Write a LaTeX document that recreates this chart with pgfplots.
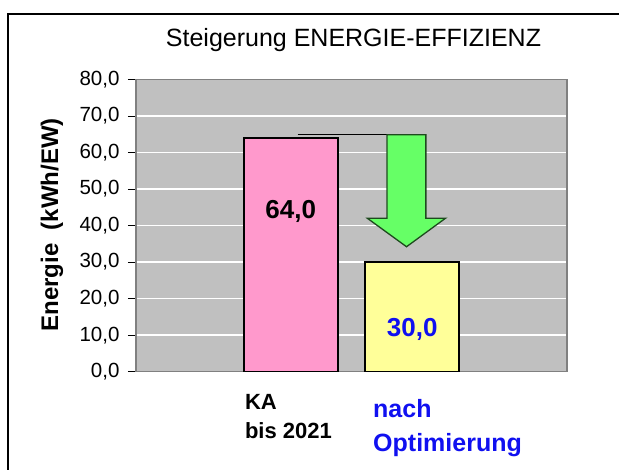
\documentclass[border=0pt]{standalone}
\usepackage{pgfplots}
\pgfplotsset{compat=1.18}
\usepackage{fontspec}
\setmainfont{Liberation Sans}
\definecolor{plotgray}{HTML}{C0C0C0}
\definecolor{axgray}{HTML}{808080}
\definecolor{barpink}{HTML}{FF99CC}
\definecolor{baryellow}{HTML}{FFFF99}
\definecolor{arrowgreen}{HTML}{66FF66}
\definecolor{arrowdark}{HTML}{1E4A1E}
\definecolor{labelblue}{HTML}{1010F0}
\begin{document}
\begin{tikzpicture}
\begin{scope}[x=1pt,y=1pt]
\useasboundingbox (0,0) rectangle (619,470);
\draw[line width=1.2pt] (8,-20) -- (8,456) -- (640,456);
\node[font=\fontsize{25}{30}\selectfont] at (353.5,430) {Steigerung ENERGIE-EFFIZIENZ};
\node[font=\fontsize{24}{28}\selectfont\bfseries, rotate=90] at (52,245) {Energie\ \ (kWh/EW)};
\node[font=\fontsize{22}{26}\selectfont\bfseries, anchor=base west, inner sep=0] at (244.8,60.7) {KA};
\node[font=\fontsize{22}{26}\selectfont\bfseries, anchor=base west, inner sep=0] at (244.8,31.7) {bis 2021};
\node[font=\fontsize{25}{30}\selectfont\bfseries, text=labelblue, anchor=base west, inner sep=0] at (373,52.7) {nach};
\node[font=\fontsize{25}{30}\selectfont\bfseries, text=labelblue, anchor=base west, inner sep=0] at (373,18.3) {Optimierung};
\end{scope}
\begin{axis}[
  at={(136pt,98.3pt)}, anchor=south west,
  width=431pt, height=292.3pt, scale only axis,
  xmin=-0.274, xmax=3.274, ymin=0, ymax=80,
  axis background/.style={fill=plotgray},
  axis line style={draw=axgray, line width=1.6pt},
  xtick=\empty,
  ytick={0,10,...,80},
  ytick pos=left,
  tick align=outside,
  major tick length=8pt,
  tick style={black, line width=0.8pt},
  ymajorgrids,
  major grid style={white, line width=1.5pt},
  yticklabel style={font=\fontsize{20.5}{24}\selectfont, xshift=-5pt, /pgf/number format/.cd, fixed, fixed zerofill, precision=1, use comma, assume math mode=true},
  clip=false,
]
\addplot[ybar, bar width=0.774, bar shift=0pt, fill=barpink, draw=black, line width=1.6pt] coordinates {(1,64)};
\addplot[ybar, bar width=0.774, bar shift=0pt, fill=baryellow, draw=black, line width=1.6pt] coordinates {(2,30)};
\addplot[black, line width=1.3pt] coordinates {(1.056,64.85) (1.793,64.85)};
\addplot[fill=arrowgreen, draw=arrowdark, line width=1.3pt] coordinates {(1.793,64.85) (2.112,64.85) (2.112,42) (2.274,42) (1.953,34.2) (1.630,42) (1.793,42)} -- cycle;
\node[font=\fontsize{26}{30}\selectfont\bfseries] at (axis cs:1,43.75) {64,0};
\node[font=\fontsize{26}{30}\selectfont\bfseries, text=labelblue] at (axis cs:2,11.6) {30,0};
\end{axis}
\end{tikzpicture}
\end{document}
